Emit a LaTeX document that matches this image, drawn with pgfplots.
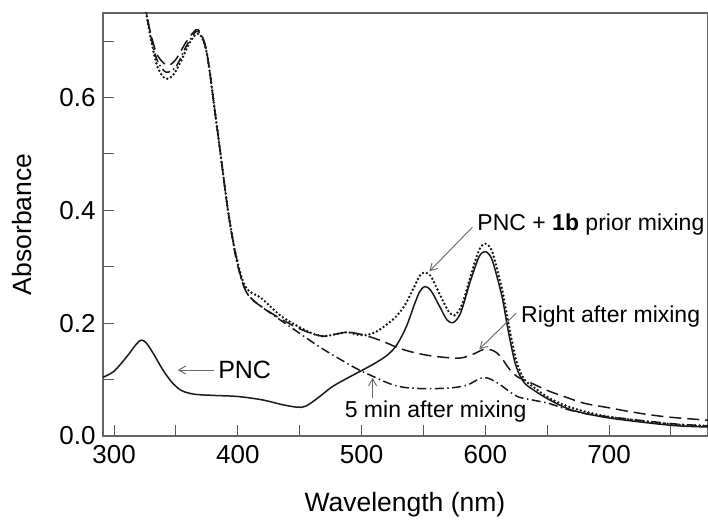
\documentclass[border=0pt]{standalone}
\usepackage{fontspec}
\setmainfont{Liberation Sans}
\usepackage{pgfplots}
\pgfplotsset{compat=1.18}
\usetikzlibrary{arrows.meta}

\begin{document}
\begin{tikzpicture}[x=1bp,y=1bp]
\begin{axis}[
  at={(0,0)}, anchor=south west,
  scale only axis, width=605bp, height=423bp,
  xmin=291, xmax=780, ymin=0, ymax=0.75,
  xtick={300,400,...,700}, minor xtick={350,450,...,750},
  ytick={0,0.2,0.4,0.6}, minor ytick={0.1,0.3,0.5,0.7},
  tick align=inside, xtick pos=bottom, ytick pos=left,
  major tick length=11bp, minor tick length=11bp,
  tick style={line width=1bp, black!65},
  axis line style={line width=1.2bp, black!60},
  /pgf/number format/assume math mode=true,
  yticklabel style={/pgf/number format/fixed, /pgf/number format/fixed zerofill, /pgf/number format/precision=1, xshift=-4bp},
  xticklabel style={yshift=-6bp},
  tick label style={font=\fontsize{26bp}{30bp}\selectfont},
  label style={font=\fontsize{26.5bp}{30bp}\selectfont},
  xlabel={Wavelength (nm)},
  ylabel={Absorbance},
  xlabel style={at={(axis description cs:0.499,-0.163)}, anchor=center},
  ylabel style={at={(axis description cs:-0.134,0.5)}, anchor=center},
  every axis plot/.append style={black!90, line width=1.5bp, no marks, smooth, tension=0.5},
]
% PNC
\addplot[solid] coordinates {(291,0.104) (300,0.115) (310,0.140) (318,0.163) (322,0.170) (326,0.165) (332,0.145) (340,0.115) (348,0.092) (355,0.080) (365,0.074) (380,0.072) (400,0.070) (420,0.064) (435,0.056) (448,0.051) (455,0.053) (465,0.068) (476,0.087) (488,0.102) (500,0.116) (510,0.128) (520,0.142) (528,0.160) (536,0.193) (543,0.235) (547,0.256) (551,0.265) (556,0.258) (563,0.230) (569,0.206) (574,0.201) (580,0.218) (588,0.275) (595,0.318) (600,0.327) (605,0.315) (610,0.278) (614,0.242) (617,0.205) (620,0.170) (624,0.130) (628,0.107) (632,0.093) (640,0.080) (652,0.064) (670,0.046) (700,0.032) (750,0.019) (780,0.016)};
% PNC + 1b prior mixing
\addplot[line width=2.7bp, line cap=round, dash pattern=on 0bp off 4bp] coordinates {(322,0.80) (326,0.75) (330,0.70) (335,0.655) (341,0.634) (347,0.638) (353,0.660) (360,0.693) (366,0.712) (370,0.710) (374,0.688) (377,0.650) (380,0.600) (386,0.500) (392,0.400) (398,0.325) (404,0.275) (410,0.255) (418,0.246) (436,0.211) (456,0.186) (468,0.177) (478,0.180) (488,0.184) (496,0.180) (504,0.179) (512,0.185) (520,0.197) (528,0.212) (535,0.232) (542,0.262) (547,0.284) (551,0.290) (556,0.283) (563,0.252) (570,0.222) (575,0.214) (581,0.232) (589,0.290) (595,0.330) (600,0.341) (605,0.330) (610,0.292) (614,0.255) (617,0.220) (620,0.185) (624,0.142) (628,0.115) (632,0.099) (640,0.085) (652,0.067) (670,0.050) (700,0.034) (750,0.021) (780,0.018)};
% Right after mixing
\addplot[dash pattern=on 12bp off 6bp] coordinates {(322,0.80) (326,0.75) (330,0.71) (335,0.675) (343,0.657) (350,0.668) (358,0.698) (366,0.720) (370,0.715) (374,0.690) (377,0.650) (380,0.600) (386,0.500) (392,0.400) (398,0.325) (404,0.270) (410,0.245) (420,0.228) (436,0.206) (450,0.190) (462,0.180) (470,0.177) (480,0.181) (488,0.184) (496,0.182) (505,0.177) (517,0.168) (530,0.156) (544,0.147) (560,0.141) (579,0.138) (590,0.145) (598,0.153) (604,0.153) (609,0.148) (614,0.136) (619,0.120) (626,0.105) (638,0.093) (651,0.080) (665,0.069) (680,0.058) (700,0.050) (720,0.042) (746,0.034) (780,0.028)};
% 5 min after mixing
\addplot[dash pattern=on 9bp off 3.5bp on 1.5bp off 3.5bp] coordinates {(322,0.80) (326,0.75) (330,0.705) (335,0.665) (342,0.645) (350,0.655) (358,0.690) (366,0.717) (370,0.712) (374,0.688) (377,0.650) (380,0.600) (386,0.500) (392,0.400) (398,0.320) (404,0.270) (410,0.246) (423,0.223) (444,0.191) (466,0.158) (485,0.133) (498,0.117) (506,0.109) (516,0.099) (525,0.091) (535,0.086) (550,0.084) (571,0.085) (585,0.090) (593,0.099) (599,0.104) (605,0.100) (612,0.091) (620,0.078) (627,0.069) (640,0.063) (651,0.058) (665,0.048) (680,0.040) (700,0.034) (750,0.022) (780,0.018)};

\draw[black!60, line width=0.9bp, -{Straight Barb[length=7bp,width=8bp]}] (axis cs:381,0.117) -- (axis cs:351.5,0.117);
\node[anchor=center, font=\fontsize{25bp}{30bp}\selectfont] at (axis cs:405.5,0.117) {PNC};
\draw[black!60, line width=0.9bp, -{Straight Barb[length=7bp,width=8bp]}] (axis cs:589.5,0.370) -- (axis cs:554.8,0.292);
\node[anchor=base west, inner sep=0pt, font=\fontsize{23bp}{28bp}\selectfont] at (axis cs:593.5,0.364) {PNC + \textbf{1b} prior mixing};
\draw[black!60, line width=0.9bp, -{Straight Barb[length=7bp,width=8bp]}] (axis cs:625,0.218) -- (axis cs:595.2,0.154);
\node[anchor=base west, inner sep=0pt, font=\fontsize{23bp}{28bp}\selectfont] at (axis cs:628.8,0.202) {Right after mixing};
\draw[black!60, line width=0.9bp, -{Straight Barb[length=7bp,width=8bp]}] (axis cs:508.9,0.067) -- (axis cs:508.9,0.103);
\node[anchor=base west, inner sep=0pt, font=\fontsize{23bp}{28bp}\selectfont] at (axis cs:486.3,0.032) {5 min after mixing};
\end{axis}
\pgfresetboundingbox
\path[use as bounding box] (-103,-88) rectangle (605,436);
\end{tikzpicture}
\end{document}
